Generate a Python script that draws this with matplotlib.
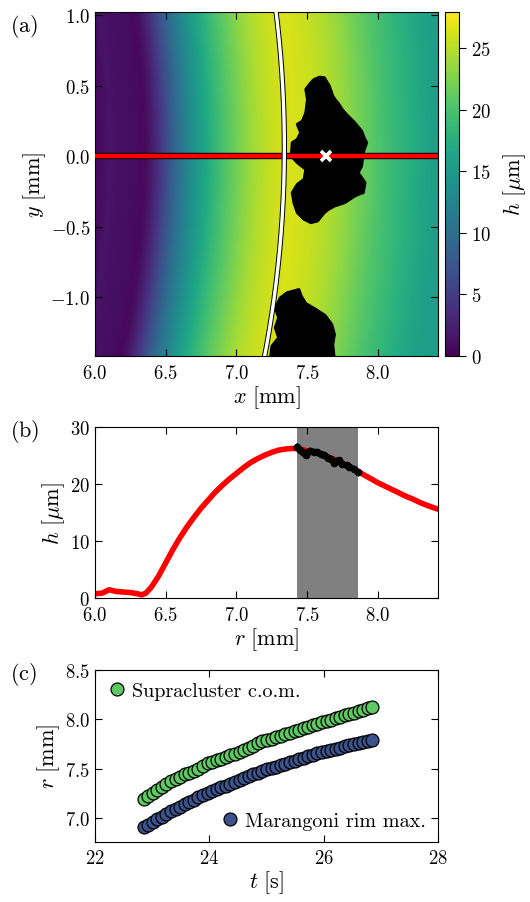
import numpy as np
import matplotlib
matplotlib.use('Agg')
import matplotlib.pyplot as plt
from matplotlib import patheffects as pe

plt.rcParams.update({
    'font.family': ['cmr10'],
    'mathtext.fontset': 'cm',
    'axes.formatter.use_mathtext': True,
    'font.size': 13.5,
    'xtick.direction': 'in', 'ytick.direction': 'in',
    'xtick.top': True, 'ytick.right': True,
    'xtick.major.size': 5, 'ytick.major.size': 5,
    'xtick.major.width': 0.8, 'ytick.major.width': 0.8,
    'xtick.major.pad': 5.5,
    'xtick.minor.visible': False, 'ytick.minor.visible': False,
    'axes.linewidth': 0.8,
    'xtick.labelsize': 13.5, 'ytick.labelsize': 13.5,
})

# ---------------- data ----------------
# height profile along y = 0 (panel b)
prof_r = [6.00, 6.05, 6.10, 6.15, 6.20, 6.25, 6.30, 6.33, 6.36, 6.40, 6.45,
          6.50, 6.55, 6.60, 6.65, 6.70, 6.75, 6.80, 6.85, 6.90, 6.95, 7.00,
          7.05, 7.10, 7.15, 7.20, 7.25, 7.30, 7.35, 7.40, 7.45, 7.50, 7.55,
          7.60, 7.65, 7.70, 7.75, 7.80, 7.85, 7.90, 7.95, 8.00, 8.05, 8.10,
          8.15, 8.20, 8.25, 8.30, 8.35, 8.43]
prof_h = [0.8, 0.9, 1.5, 1.2, 1.1, 1.0, 0.8, 0.6, 0.9, 2.0, 3.9,
          6.2, 8.5, 10.6, 12.5, 14.2, 15.8, 17.2, 18.6, 19.8, 20.9, 21.9,
          22.9, 23.8, 24.5, 25.1, 25.6, 26.0, 26.2, 26.3, 26.2, 25.9, 25.6,
          25.2, 24.8, 24.3, 23.7, 23.1, 22.4, 21.7, 21.0, 20.3, 19.7, 19.1,
          18.5, 17.9, 17.4, 16.8, 16.3, 15.6]

# profile portion inside the supracluster
clus_r = [7.43, 7.45, 7.47, 7.49, 7.52, 7.55, 7.57, 7.60, 7.62, 7.65,
          7.67, 7.69, 7.71, 7.73, 7.75, 7.78, 7.80, 7.83, 7.86]
clus_h = [26.5, 26.0, 25.6, 25.1, 25.9, 25.7, 25.6, 25.3, 25.1, 24.7,
          24.4, 23.8, 24.1, 24.2, 23.5, 23.3, 23.1, 22.7, 22.1]
band_lo, band_hi = 7.43, 7.86

# Marangoni rim arc (panel a): radius, rim position at y=yc, centre y
rim_R = 7.9
rim_x0 = 7.34
rim_yc = 0.06

# supracluster outlines (panel a)
clusterA_x = [7.551, 7.590, 7.623, 7.659, 7.683, 7.700, 7.719, 7.750, 7.779,
              7.839, 7.887, 7.905, 7.923, 7.899, 7.887, 7.863, 7.911, 7.899,
              7.870, 7.839, 7.767, 7.695, 7.650, 7.623, 7.575, 7.527, 7.479,
              7.431, 7.407, 7.395, 7.431, 7.479, 7.491, 7.431, 7.388, 7.395,
              7.431, 7.455, 7.431, 7.467, 7.491, 7.503, 7.491, 7.527]
clusterA_y = [0.544, 0.560, 0.556, 0.496, 0.426, 0.400, 0.378, 0.330, 0.296,
              0.236, 0.177, 0.130, 0.095, 0.024, -0.071, -0.118, -0.189, -0.260,
              -0.270, -0.284, -0.331, -0.355, -0.380, -0.402, -0.461, -0.473,
              -0.449, -0.402, -0.331, -0.260, -0.201, -0.165, -0.095, -0.047,
              0.000, 0.095, 0.118, 0.165, 0.225, 0.248, 0.307, 0.402, 0.473,
              0.520]
clusterB_x = [7.239, 7.251, 7.299, 7.275, 7.299, 7.275, 7.311, 7.359, 7.443,
              7.460, 7.491, 7.563, 7.628, 7.676, 7.695, 7.683, 7.695]
clusterB_y = [-1.45, -1.348, -1.288, -1.217, -1.147, -1.076, -1.005, -0.969,
              -0.946, -0.993, -1.045, -1.087, -1.130, -1.194, -1.265, -1.336,
              -1.45]
com_x, com_y = 7.635, 0.0

# panel c time series
t_vals = [22.85, 22.93, 23.01, 23.09, 23.17, 23.25, 23.33, 23.41, 23.49, 23.57,
          23.65, 23.73, 23.81, 23.89, 23.97, 24.05, 24.13, 24.21, 24.29, 24.37,
          24.45, 24.53, 24.61, 24.69, 24.77, 24.85, 24.93, 25.01, 25.09, 25.17,
          25.25, 25.33, 25.41, 25.49, 25.57, 25.65, 25.73, 25.81, 25.89, 25.97,
          26.05, 26.13, 26.21, 26.29, 26.37, 26.45, 26.53, 26.61, 26.69, 26.77,
          26.85]
r_com = [7.19, 7.22, 7.25, 7.28, 7.31, 7.34, 7.37, 7.39, 7.41, 7.44,
         7.46, 7.48, 7.50, 7.53, 7.56, 7.57, 7.59, 7.60, 7.62, 7.64,
         7.65, 7.67, 7.69, 7.71, 7.73, 7.76, 7.78, 7.79, 7.80, 7.82,
         7.83, 7.85, 7.86, 7.88, 7.89, 7.91, 7.92, 7.94, 7.95, 7.97,
         7.98, 7.99, 8.01, 8.02, 8.04, 8.05, 8.06, 8.08, 8.09, 8.11,
         8.12]
r_rim = [6.91, 6.93, 6.96, 6.99, 7.01, 7.04, 7.07, 7.09, 7.11, 7.14,
         7.16, 7.18, 7.21, 7.23, 7.25, 7.27, 7.29, 7.31, 7.32, 7.34,
         7.36, 7.38, 7.40, 7.42, 7.44, 7.46, 7.48, 7.50, 7.51, 7.52,
         7.54, 7.55, 7.57, 7.58, 7.60, 7.61, 7.63, 7.64, 7.66, 7.67,
         7.68, 7.69, 7.70, 7.71, 7.73, 7.74, 7.75, 7.76, 7.77, 7.78,
         7.79]

xlim_a = (6.0, 8.427)
ylim_a = (-1.418, 1.025)

# ---------------- figure ----------------
fig = plt.figure(figsize=(5.30, 9.03), dpi=100)
W, H = 530.0, 903.0

def ax_rect(l, r, t, b):
    return [l / W, 1 - b / H, (r - l) / W, (b - t) / H]

axa = fig.add_axes(ax_rect(95, 438, 12.5, 357))
cax = fig.add_axes(ax_rect(445, 459.3, 12.5, 357))
axb = fig.add_axes(ax_rect(95, 438, 428.3, 599.3))
axc = fig.add_axes(ax_rect(95, 438, 670.7, 842.7))

# ---- panel a ----
gx = np.linspace(xlim_a[0], xlim_a[1], 500)
gy = np.linspace(ylim_a[0], ylim_a[1], 500)
GX, GY = np.meshgrid(gx, gy)
cx = rim_x0 - rim_R
reff = np.sqrt((GX - cx) ** 2 + (GY - rim_yc) ** 2) - rim_R + rim_x0
himg = np.interp(reff, prof_r, prof_h)
im = axa.imshow(himg, origin='lower', extent=[xlim_a[0], xlim_a[1], ylim_a[0], ylim_a[1]],
                cmap='viridis', vmin=0, vmax=28, aspect='auto', interpolation='bilinear')

axa.fill(clusterA_x, clusterA_y, color='black', lw=2.0, joinstyle='round', zorder=3)
axa.fill(clusterB_x, clusterB_y, color='black', lw=2.0, joinstyle='round', zorder=3)

axa.plot([xlim_a[0], xlim_a[1]], [0, 0], color='red', lw=3.2, zorder=4,
         solid_capstyle='butt',
         path_effects=[pe.Stroke(linewidth=4.6, foreground='black'), pe.Normal()])

arc_y = np.linspace(ylim_a[0] - 0.05, ylim_a[1] + 0.05, 200)
arc_x = cx + np.sqrt(rim_R ** 2 - (arc_y - rim_yc) ** 2)
axa.plot(arc_x, arc_y, color='white', lw=2.4, zorder=5,
         path_effects=[pe.Stroke(linewidth=3.8, foreground='black'), pe.Normal()])

axa.plot([com_x], [com_y], marker='x', color='white', ms=7.5, mew=2.6, zorder=6)

axa.set_xlim(*xlim_a)
axa.set_ylim(*ylim_a)
axa.set_xticks([6.0, 6.5, 7.0, 7.5, 8.0])
axa.set_yticks([-1.0, -0.5, 0.0, 0.5, 1.0])
axa.set_xlabel(r'$x\ [\mathrm{mm}]$', fontsize=16, labelpad=1)
axa.set_ylabel(r'$y\ [\mathrm{mm}]$', fontsize=16, labelpad=2)

cb = fig.colorbar(im, cax=cax)
cb.set_ticks([0, 5, 10, 15, 20, 25])
cax.tick_params(direction='out', length=5, width=0.8, right=True, left=False)
cb.outline.set_linewidth(0.8)
cb.set_label(r'$h\ [\mu\mathrm{m}]$', fontsize=16, labelpad=7)

# ---- panel b ----
axb.axvspan(band_lo, band_hi, color='#808080', lw=0, zorder=1)
axb.plot(prof_r, prof_h, color='red', lw=4.0, zorder=2, solid_capstyle='butt',
         solid_joinstyle='round')
axb.plot(clus_r, clus_h, color='black', lw=4.4, zorder=3, marker='o', ms=4.5,
         solid_joinstyle='round')
axb.set_xlim(*xlim_a)
axb.set_ylim(0, 30)
axb.set_xticks([6.0, 6.5, 7.0, 7.5, 8.0])
axb.set_yticks([0, 10, 20, 30])
axb.set_xlabel(r'$r\ [\mathrm{mm}]$', fontsize=16, labelpad=1)
axb.set_ylabel(r'$h\ [\mu\mathrm{m}]$', fontsize=16, labelpad=2)

# ---- panel c ----
l1, = axc.plot(t_vals, r_com, ls='none', marker='o', ms=9.3, mfc='#5ec962',
               mec='black', mew=0.9, label='Supracluster c.o.m.')
l2, = axc.plot(t_vals, r_rim, ls='none', marker='o', ms=9.3, mfc='#3b528b',
               mec='black', mew=0.9, label='Marangoni rim max.')
axc.set_xlim(22, 28)
axc.set_ylim(6.76, 8.5)
axc.set_xticks([22, 24, 26, 28])
axc.set_yticks([7.0, 7.5, 8.0, 8.5])
axc.set_xlabel(r'$t\ [\mathrm{s}]$', fontsize=16, labelpad=1)
axc.set_ylabel(r'$r\ [\mathrm{mm}]$', fontsize=16, labelpad=2)
leg1 = axc.legend(handles=[l1], loc='upper left', frameon=False, fontsize=14.5,
                  handlelength=1.0, handletextpad=0.25, borderaxespad=0.3, borderpad=0.3)
axc.add_artist(leg1)
axc.legend(handles=[l2], loc='lower right', frameon=False, fontsize=14.5,
           handlelength=1.0, handletextpad=0.25, borderaxespad=0.3, borderpad=0.3)

# panel labels
fig.text(10 / W, 1 - 26 / H, r'$\mathrm{(a)}$', fontsize=16, va='center', ha='left')
fig.text(10 / W, 1 - 432 / H, r'$\mathrm{(b)}$', fontsize=16, va='center', ha='left')
fig.text(10 / W, 1 - 675 / H, r'$\mathrm{(c)}$', fontsize=16, va='center', ha='left')

fig.savefig('out.png', dpi=100)
